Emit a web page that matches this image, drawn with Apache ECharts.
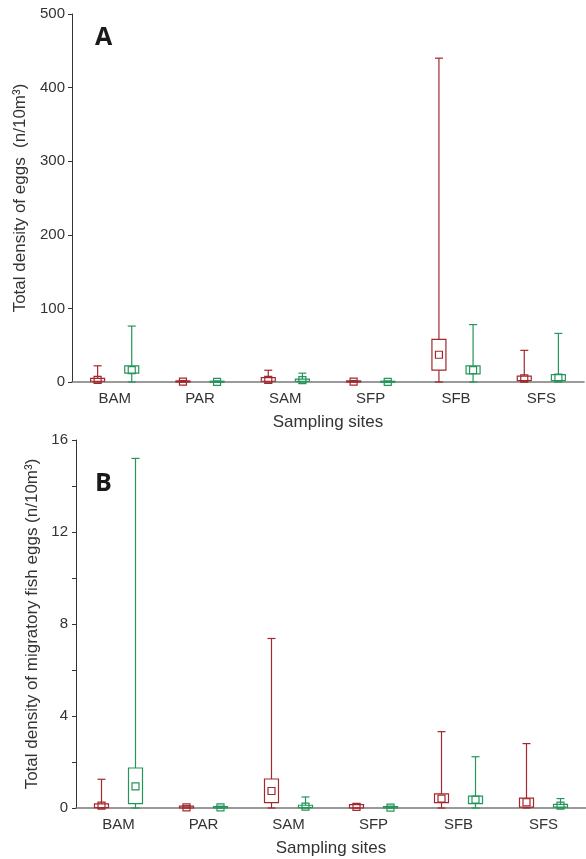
<!DOCTYPE html>
<html>
<head>
<meta charset="utf-8">
<script src="https://cdn.jsdelivr.net/npm/echarts@6/dist/echarts.min.js"></script>
<style>
  html, body { margin: 0; padding: 0; background: #fff; }
  #main { width: 586px; height: 859px; }
</style>
</head>
<body>
<div id="main"></div>
<script>
// 采样点
var sites = ['BAM', 'PAR', 'SAM', 'SFP', 'SFB', 'SFS'];

// 每个盒子: [min, q1, median, q3, max]
// A: 卵总密度
var eggsRed = [
  [0, 1, 3, 5, 22],
  [0, 0, 0.5, 1.5, 2],
  [0, 1, 3, 6, 16],
  [0, 0, 0.5, 1.5, 2],
  [0, 16, 37, 58, 440],
  [0, 2, 5, 8, 43]
];
var eggsGreen = [
  [0, 12, 16, 22, 76],
  [0, 0, 0.3, 1, 1.5],
  [0, 1, 2.5, 4, 12],
  [0, 0, 0.3, 1, 1.5],
  [0, 11, 16, 22, 78],
  [0, 2, 6, 10, 66]
];

// B: 洄游鱼类卵密度
var migRed = [
  [0, 0.02, 0.1, 0.18, 1.25],
  [0, 0, 0.03, 0.08, 0.1],
  [0, 0.23, 0.74, 1.26, 7.37],
  [0, 0, 0.05, 0.15, 0.18],
  [0, 0.23, 0.41, 0.61, 3.32],
  [0, 0.04, 0.25, 0.43, 2.8]
];
var migGreen = [
  [0, 0.19, 0.94, 1.74, 15.2],
  [0, 0, 0.03, 0.06, 0.08],
  [0, 0.02, 0.06, 0.12, 0.48],
  [0, 0, 0.02, 0.06, 0.08],
  [0, 0.19, 0.36, 0.52, 2.23],
  [0, 0.04, 0.1, 0.16, 0.41]
];

var yTicksA = { min: 0, max: 500, interval: 100 };
var yTicksB = { min: 0, max: 16, interval: 2, labelEvery: 4 };

var RED = '#a3282e';
var GREEN = '#25955a';

var myChart = echarts.init(document.getElementById('main'));

var toData = function(arr) {
  var out = [];
  for (var i = 0; i < arr.length; i++) {
    out.push([i].concat(arr[i]));
  }
  return out;
};

// 自定义箱线图: 方块表示中位数, 盒子 25%-75%, 须 min-max
var boxRender = function(offset, color) {
  return function(params, api) {
    var xi = api.value(0);
    var band = api.size([1, 0])[0];
    var cx = api.coord([xi, 0])[0] + offset * band;
    var yMin = api.coord([xi, api.value(1)])[1];
    var yQ1 = api.coord([xi, api.value(2)])[1];
    var yMed = api.coord([xi, api.value(3)])[1];
    var yQ3 = api.coord([xi, api.value(4)])[1];
    var yMax = api.coord([xi, api.value(5)])[1];
    var bw = 14, cw = 8, ms = 7;
    var st = { stroke: color, fill: 'none', lineWidth: 1.2 };
    return {
      type: 'group',
      children: [
        { type: 'line', shape: { x1: cx, y1: yMax, x2: cx, y2: yQ3 }, style: st },
        { type: 'line', shape: { x1: cx, y1: yQ1, x2: cx, y2: yMin }, style: st },
        { type: 'line', shape: { x1: cx - cw / 2, y1: yMax, x2: cx + cw / 2, y2: yMax }, style: st },
        { type: 'line', shape: { x1: cx - cw / 2, y1: yMin, x2: cx + cw / 2, y2: yMin }, style: st },
        { type: 'rect', shape: { x: cx - bw / 2, y: yQ3, width: bw, height: Math.max(yQ1 - yQ3, 1) }, style: st },
        { type: 'rect', shape: { x: cx - ms / 2, y: yMed - ms / 2, width: ms, height: ms }, style: st }
      ]
    };
  };
};

var labelStyle = { color: '#333', fontSize: 15, fontFamily: 'Liberation Sans' };
var nameStyle = { color: '#333', fontSize: 17, fontFamily: 'Liberation Sans' };

var makeX = function(gi) {
  return {
    type: 'category',
    gridIndex: gi,
    data: sites,
    name: 'Sampling sites',
    nameLocation: 'middle',
    nameGap: 32,
    nameTextStyle: nameStyle,
    axisLine: { lineStyle: { color: '#7a7a7a', width: 1.6 } },
    axisTick: { inside: true, alignWithLabel: true, length: 4, lineStyle: { color: '#333' } },
    axisLabel: Object.assign({ margin: 9 }, labelStyle),
    splitLine: { show: false }
  };
};

var option = {
  animation: false,
  title: [
    { text: 'A', left: 90, top: 20, textStyle: { fontSize: 25, fontWeight: 'bold', color: '#1a1a1a', fontFamily: 'Open Sans' } },
    { text: 'B', left: 90, top: 466, textStyle: { fontSize: 25, fontWeight: 'bold', color: '#1a1a1a', fontFamily: 'Open Sans' } }
  ],
  grid: [
    { left: 72, right: 2, top: 14, height: 368 },
    { left: 76, right: -11, top: 440, height: 368 }
  ],
  xAxis: [makeX(0), makeX(1)],
  yAxis: [{
    type: 'value',
    gridIndex: 0,
    min: yTicksA.min,
    max: yTicksA.max,
    interval: yTicksA.interval,
    name: 'Total density of eggs  (n/10m³)',
    nameLocation: 'middle',
    nameGap: 39,
    nameTextStyle: nameStyle,
    axisLine: { show: true, lineStyle: { color: '#333', width: 1 } },
    axisTick: { show: true, length: 4, lineStyle: { color: '#333' } },
    axisLabel: Object.assign({ margin: 7 }, labelStyle),
    splitLine: { show: false }
  }, {
    type: 'value',
    gridIndex: 1,
    min: yTicksB.min,
    max: yTicksB.max,
    interval: yTicksB.interval,
    name: 'Total density of migratory fish eggs (n/10m³)',
    nameLocation: 'middle',
    nameGap: 33,
    nameTextStyle: nameStyle,
    axisLine: { show: true, lineStyle: { color: '#333', width: 1 } },
    axisTick: { show: true, length: 4, lineStyle: { color: '#333' } },
    axisLabel: Object.assign({
      margin: 8,
      formatter: function(v) { return v % yTicksB.labelEvery === 0 ? String(v) : ''; }
    }, labelStyle),
    splitLine: { show: false }
  }],
  series: [{
    name: 'eggs-red',
    type: 'custom',
    xAxisIndex: 0,
    yAxisIndex: 0,
    renderItem: boxRender(-0.2, RED),
    encode: { x: 0, y: [1, 2, 3, 4, 5] },
    data: toData(eggsRed)
  }, {
    name: 'eggs-green',
    type: 'custom',
    xAxisIndex: 0,
    yAxisIndex: 0,
    renderItem: boxRender(0.2, GREEN),
    encode: { x: 0, y: [1, 2, 3, 4, 5] },
    data: toData(eggsGreen)
  }, {
    name: 'mig-red',
    type: 'custom',
    xAxisIndex: 1,
    yAxisIndex: 1,
    renderItem: boxRender(-0.2, RED),
    encode: { x: 0, y: [1, 2, 3, 4, 5] },
    data: toData(migRed)
  }, {
    name: 'mig-green',
    type: 'custom',
    xAxisIndex: 1,
    yAxisIndex: 1,
    renderItem: boxRender(0.2, GREEN),
    encode: { x: 0, y: [1, 2, 3, 4, 5] },
    data: toData(migGreen)
  }]
};

myChart.setOption(option);
</script>
</body>
</html>
